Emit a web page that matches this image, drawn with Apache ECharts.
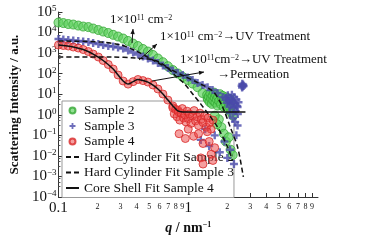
<!DOCTYPE html>
<html>
<head>
<meta charset="utf-8">
<script src="https://cdn.jsdelivr.net/npm/echarts@6/dist/echarts.min.js"></script>
<style>html,body{margin:0;padding:0;background:#fff}#chart{width:381px;height:240px}</style>
</head>
<body>
<div id="chart"></div>
<script>
// tick values
var xTicks = [0.1,0.2,0.3,0.4,0.5,0.6,0.7,0.8,0.9,1,2,3,4,5,6,7,8,9,10];
var yTicks = [1e-4,1e-3,1e-2,1e-1,1,1e1,1e2,1e3,1e4,1e5];

var legendNames = ['Sample 2','Sample 3','Sample 4','Hard Cylinder Fit Sample 2','Hard Cylinder Fit Sample 3','Core Shell Fit Sample 4'];

// Sample 2 (q, intensity)
var sample2 = [
  [0.100,30700],[0.109,29000],[0.119,26000],[0.130,24500],[0.142,21900],[0.155,19600],[0.170,18500],
  [0.185,15700],[0.203,13300],[0.221,11200],[0.242,9500],[0.264,7740],[0.288,6400],[0.315,5120],
  [0.344,3900],[0.376,2900],[0.410,2200],[0.448,1580],[0.489,1190],[0.535,810],[0.584,545],
  [0.638,360],[0.697,230],[0.761,150],[0.831,102],[0.908,69],[0.991,49],[1.08,33],[1.18,22],
  [1.29,11.4],[1.41,6.5],[1.54,5.2],[1.68,4.7],[1.84,4.2],
  [1.40,9.5],[1.42,5.5],[1.44,7.8],[1.46,4.2],[1.48,11],[1.50,6.2],[1.52,3.4],[1.54,8.5],[1.56,5.0],
  [1.58,12],[1.60,6.8],[1.62,3.9],[1.64,9.0],[1.66,5.6],[1.68,2.8],[1.70,7.4],[1.73,4.6],[1.76,10],
  [1.79,3.2],[1.82,6.4],[1.85,8.2],[1.88,2.4],[1.91,5.2],[1.94,3.6],[1.97,7.0],[2.00,1.9],[2.03,4.4],
  [2.06,2.6],[2.10,5.8],[2.14,1.3],[2.18,3.0],[2.22,0.9],[1.72,0.6],[1.80,0.25],[1.88,0.12],
  [1.95,0.05],[2.05,0.08],[2.12,0.02],[2.20,0.011],[1.60,0.9],[1.66,0.35]
];

// Sample 3
var sample3 = [
  [0.100,4840],[0.109,4580],[0.119,4330],[0.130,4090],[0.142,3870],[0.155,3650],[0.170,3460],
  [0.185,3090],[0.203,2770],[0.221,2470],[0.242,2210],[0.264,2090],[0.288,1870],[0.315,1670],
  [0.344,1340],[0.376,1070],[0.410,850],[0.448,680],[0.489,545],[0.535,436],[0.584,330],
  [0.638,249],[0.697,188],[0.761,142],[0.831,107],[0.908,86],[0.991,65],[1.08,49],[1.18,35],
  [1.29,28],[1.41,22],[1.54,16],[1.68,11.4],[1.84,7.3],[2.01,5.2],[2.19,3.7],[2.40,2.4],
  [1.95,6.5],[1.98,3.8],[2.02,8.8],[2.05,4.6],[2.08,2.4],[2.11,6.0],[2.14,3.2],[2.17,9.5],[2.20,4.9],
  [2.23,2.1],[2.26,7.2],[2.29,3.6],[2.32,1.5],[2.35,5.5],[2.38,2.7],[2.41,1.1],[2.44,4.1],
  [2.10,1.2],[2.20,0.7],[2.30,0.45],[2.40,0.3],
  [2.58,26],[2.61,32],[2.63,24],[2.65,29],[2.60,21],[2.67,25],
  [1.25,0.06],[1.45,0.03],[1.60,0.1],[1.75,0.015],[1.90,0.05],[2.00,0.008],[2.10,0.02],
  [2.25,0.004],[2.35,0.1],[1.35,0.2]
];

// Sample 4
var sample4 = [
  [0.100,2470],[0.109,2340],[0.119,2210],[0.130,1980],[0.142,1770],[0.155,1490],[0.170,1190],
  [0.185,900],[0.203,645],[0.221,436],[0.242,279],[0.264,168],[0.288,86],[0.315,44],[0.344,31],
  [0.376,41],[0.410,52],[0.448,46],[0.489,39],[0.535,28],[0.584,18],[0.638,10.2],[0.697,5.2],
  [0.761,2.7],[0.831,1.7],
  [0.76,2.2],[0.78,1.1],[0.80,1.8],[0.82,0.8],[0.84,1.4],[0.86,0.55],[0.88,1.2],[0.90,2.0],[0.92,0.7],
  [0.94,1.0],[0.96,0.45],[0.98,1.5],[1.00,0.65],[1.02,1.1],[1.05,0.38],[1.08,0.9],[1.11,1.6],
  [1.14,0.5],[1.17,0.8],[1.20,0.3],[1.23,1.2],[1.26,0.6],[1.30,0.42],[1.34,0.9],[1.38,0.25],
  [1.42,0.7],[1.46,0.4],[1.50,0.2],[1.55,0.55],
  [0.85,0.12],[0.95,0.07],[1.00,0.2],[1.10,0.09],[1.20,0.12],[1.30,0.04],[1.45,0.05],[1.50,0.012],
  [1.55,0.006],[1.60,0.025],[1.40,0.15],[1.25,0.008],[1.30,0.004]
];

// fits
var fitHard2 = [
  [0.100,650],[0.255,650],[0.396,575],[0.498,513],[0.594,368],[0.697,188],[0.802,77],[0.924,35],
  [1.10,9.1],[1.25,3.3],[1.41,1.22],[1.68,0.254],[2.01,0.027],[2.19,0.0063]
];
var fitHard3 = [
  [0.100,3870],[0.2135,3460],[0.304,2470],[0.396,1260],[0.535,460],[0.697,188],[0.924,77],
  [1.25,31],[1.57,12.8],[1.84,2.4],[2.12,0.227],[2.40,0.027],[2.66,0.00094]
];
var fitCore4 = [
  [0.100,2470],[0.130,1980],[0.155,1490],[0.185,900],[0.221,436],[0.264,168],[0.288,86],[0.315,44],
  [0.344,31],[0.376,41],[0.410,52],[0.448,46],[0.489,39],[0.535,28],[0.584,18],[0.638,10.2],
  [0.697,5.2],[0.761,2.7],[0.831,1.55],[0.908,1.38],[1.0,1.36],[2.76,1.36]
];

var serif = 'Liberation Serif';

function arrow(x1, y1, x2, y2) {
    var a = Math.atan2(y2 - y1, x2 - x1), L = 5, W = 2.2;
    var c = Math.cos(a), s = Math.sin(a);
    return [
        {type: 'line', shape: {x1: x1, y1: y1, x2: x2, y2: y2}, style: {stroke: '#111', lineWidth: 1}, z: 10},
        {type: 'polygon', shape: {points: [[x2, y2], [x2 - L * c + W * s, y2 - L * s - W * c], [x2 - L * c - W * s, y2 - L * s + W * c]]}, style: {fill: '#111'}, z: 10}
    ];
}

function note(x, y, text) {
    return {
        type: 'text', x: x, y: y, z: 10,
        style: {
            text: text, fill: '#111', fontFamily: serif, fontSize: 13, verticalAlign: 'middle',
            rich: {s: {fontSize: 8, fontFamily: serif, verticalAlign: 'top', lineHeight: 8, fill: '#111'}}
        }
    };
}

var supRich = {
    b: {fontSize: 15, fontFamily: serif, lineHeight: 16, color: '#111'},
    s: {fontSize: 9, fontFamily: serif, lineHeight: 9, verticalAlign: 'top', color: '#111'},
    small: {fontSize: 8, fontFamily: serif, lineHeight: 14, color: '#111'}
};

// line fits: hide the dot ECharts puts on line legend icons
var noDot = {color: 'rgba(0,0,0,0)', borderColor: 'rgba(0,0,0,0)', borderWidth: 0};
var legendData = legendNames.map(function (n, i) {
    return i < 3 ? {name: n} : {name: n, itemStyle: noDot};
});

var option = {
    animation: false,
    backgroundColor: '#fff',
    grid: {left: 57, right: 63, top: 12, bottom: 43},
    legend: {
        data: legendData,
        orient: 'vertical',
        left: 62, top: 101,
        z: 1,
        padding: [2, 0, 2, 3],
        itemWidth: 13, itemHeight: 6, itemGap: 0.5,
        backgroundColor: '#fff',
        borderColor: '#999', borderWidth: 1,
        textStyle: {fontFamily: serif, fontSize: 13.5, lineHeight: 15, color: '#111'}
    },
    xAxis: {
        type: 'log', logBase: 10, min: 0.1, max: 10,
        name: '{q|q} / nm{s|−1}',
        nameLocation: 'middle', nameGap: 24,
        nameTextStyle: {
            fontFamily: serif, fontWeight: 'bold', fontSize: 14, color: '#111',
            rich: {
                q: {fontStyle: 'italic', fontWeight: 'bold', fontFamily: serif, fontSize: 14},
                s: {fontSize: 8, fontWeight: 'bold', fontFamily: serif, verticalAlign: 'top', lineHeight: 8}
            }
        },
        axisLine: {lineStyle: {color: '#333', width: 1}},
        axisTick: {inside: true, length: 4, customValues: xTicks, lineStyle: {color: '#333'}},
        axisLabel: {
            customValues: xTicks, margin: 3, rich: supRich,
            formatter: function (v) {
                var l = Math.log10(v);
                if (Math.abs(l - Math.round(l)) < 1e-6) return '{b|' + (+v.toPrecision(3)) + '}';
                return '{small|' + Math.round(v / Math.pow(10, Math.floor(l + 1e-9))) + '}';
            }
        },
        splitLine: {show: false}
    },
    yAxis: {
        type: 'log', logBase: 10, min: 1e-4, max: 1e5,
        name: 'Scattering Intensity / a.u.',
        nameLocation: 'middle', nameGap: 33,
        nameTextStyle: {fontFamily: serif, fontWeight: 'bold', fontSize: 13, color: '#111'},
        axisLine: {show: true, lineStyle: {color: '#333', width: 1}},
        axisTick: {inside: true, length: 4, customValues: yTicks, lineStyle: {color: '#333'}},
        minorTick: {show: true, splitNumber: 4, length: 2, lineStyle: {color: '#555'}},
        axisLabel: {
            customValues: yTicks, margin: 2, rich: supRich,
            formatter: function (v) {
                var e = Math.round(Math.log10(v));
                return '{b|10}{s|' + (e < 0 ? '−' + (-e) : e) + '}';
            }
        },
        splitLine: {show: false}
    },
    series: [
        {
            name: 'Sample 2', type: 'scatter', data: sample2, symbol: 'circle', symbolSize: 9,
            itemStyle: {color: 'rgba(95,210,95,0.85)', borderColor: '#34a834', borderWidth: 1}
        },
        {
            name: 'Sample 3', type: 'scatter', data: sample3, symbolSize: 8,
            symbol: 'path://M3.5,0H6.5V3.5H10V6.5H6.5V10H3.5V6.5H0V3.5H3.5Z',
            itemStyle: {color: '#4a4aaa'}
        },
        {
            name: 'Sample 4', type: 'scatter', data: sample4, symbol: 'circle', symbolSize: 8,
            itemStyle: {color: 'rgba(235,70,70,0.65)', borderColor: '#d82828', borderWidth: 1}
        },
        {
            name: 'Hard Cylinder Fit Sample 2', type: 'line', data: fitHard2, smooth: 0.3, symbol: 'none', z: 3,
            lineStyle: {color: '#111', width: 1.5, type: [5, 3]}, itemStyle: {color: '#111'}
        },
        {
            name: 'Hard Cylinder Fit Sample 3', type: 'line', data: fitHard3, smooth: 0.3, symbol: 'none', z: 3,
            lineStyle: {color: '#111', width: 1.5, type: [5, 3]}, itemStyle: {color: '#111'}
        },
        {
            name: 'Core Shell Fit Sample 4', type: 'line', data: fitCore4, smooth: 0.3, symbol: 'none', z: 3,
            lineStyle: {color: '#111', width: 1.5}, itemStyle: {color: '#111'}
        }
    ],
    graphic: [].concat(
        [note(110, 20, '1×10{s|11} cm{s|−2}'),
         note(160, 37, '1×10{s|11} cm{s|−2}→UV Treatment'),
         note(180, 60, '1×10{s|11}cm{s|−2}→UV Treatment'),
         note(217, 75, '→Permeation')],
        arrow(132, 43, 133, 29),
        arrow(139, 60, 157, 44),
        arrow(152, 81, 204, 72)
    )
};

var myChart = echarts.init(document.getElementById('chart'));
myChart.setOption(option);
</script>
</body>
</html>
